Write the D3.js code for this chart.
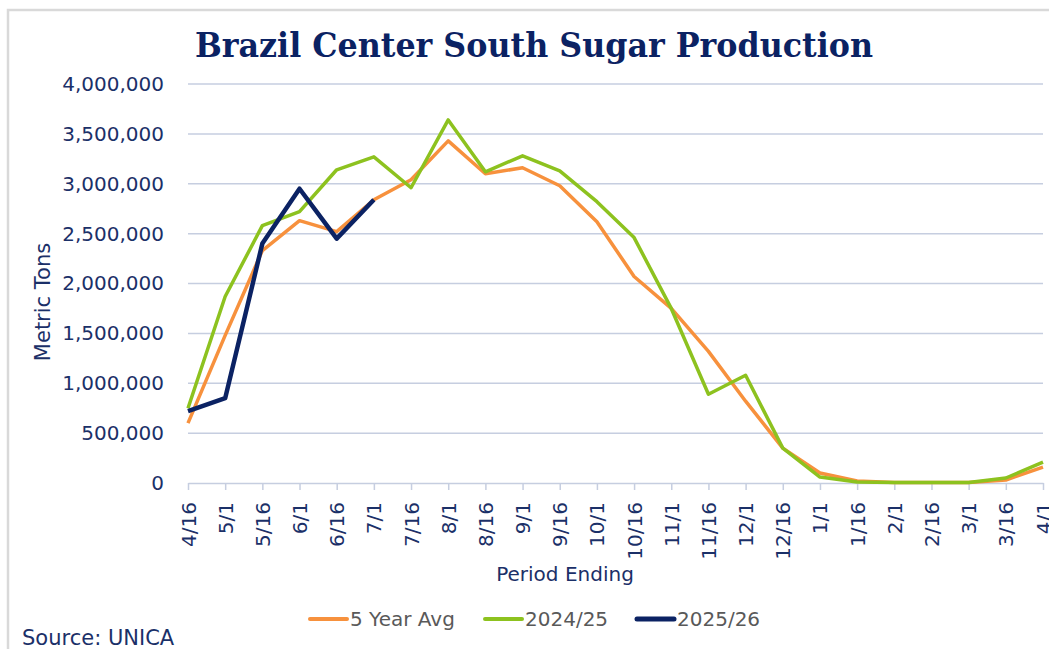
<head>
    <style> body { margin: 0; background: #fff; } </style>
    <script src="https://d3js.org/d3.v7.min.js"></script>
</head>
<body>
<div id="chart"></div>
<script>

    var periods = ["4/16","5/1","5/16","6/1","6/16","7/1","7/16","8/1","8/16","9/1","9/16","10/1",
                   "10/16","11/1","11/16","12/1","12/16","1/1","1/16","2/1","2/16","3/1","3/16","4/1"];

    var avg5 = [600000, 1480000, 2330000, 2630000, 2520000, 2840000, 3040000, 3430000, 3100000, 3160000, 2980000, 2620000,
                2070000, 1750000, 1320000, 820000, 350000, 100000, 20000, 5000, 5000, 5000, 30000, 160000];

    var y2425 = [750000, 1870000, 2580000, 2720000, 3140000, 3270000, 2960000, 3640000, 3120000, 3280000, 3130000, 2820000,
                 2460000, 1750000, 890000, 1080000, 350000, 60000, 10000, 5000, 5000, 5000, 50000, 210000];

    var y2526 = [720000, 850000, 2400000, 2950000, 2450000, 2840000];

    var yTicks = [0, 500000, 1000000, 1500000, 2000000, 2500000, 3000000, 3500000, 4000000];

    var series = [
        {name: "5 Year Avg", values: avg5, col: "#F7913D", w: 3.5},
        {name: "2024/25", values: y2425, col: "#8DC21F", w: 3.5},
        {name: "2025/26", values: y2526, col: "#0B2263", w: 4.5}
    ];

    var W = 1049, H = 649;
    var margin = {left: 188, right: 6, top: 84, bottom: 166};
    var width = W - margin.left - margin.right,
        height = H - margin.top - margin.bottom;

    var navy = "#1B3068";
    var font = "DejaVu Sans";

    var svg = d3.select("#chart").append("svg")
        .attr("width", W)
        .attr("height", H);

    // frame
    svg.append("path")
        .attr("d", "M8," + H + "V10H" + W)
        .attr("fill", "none")
        .attr("stroke", "#d9d9d9")
        .attr("stroke-width", 2.5);

    svg.append("text")
        .attr("x", 195)
        .attr("y", 57)
        .attr("font-family", "DejaVu Serif")
        .attr("font-stretch", "condensed")
        .attr("font-weight", "bold")
        .attr("font-size", 34)
        .attr("textLength", 678)
        .attr("lengthAdjust", "spacingAndGlyphs")
        .attr("fill", "#0B2263")
        .text("Brazil Center South Sugar Production");

    var focus = svg.append("g")
        .attr("transform", "translate(" + margin.left + "," + margin.top + ")");

    var x = d3.scalePoint()
        .domain(periods)
        .range([0, width]);

    var y = d3.scaleLinear()
        .domain([0, 4000000])
        .range([height, 0]);

    // grid
    focus.append("g")
        .selectAll("line")
        .data(yTicks.slice(1))
        .enter()
        .append("line")
        .attr("x1", 0)
        .attr("x2", width)
        .attr("y1", d => y(d))
        .attr("y2", d => y(d))
        .attr("stroke", "#c6cee0")
        .attr("stroke-width", 1.5);

    var yx = focus.append("g")
        .call(d3.axisLeft(y).tickValues(yTicks).tickSize(0).tickPadding(24).tickFormat(d3.format(",")));
    yx.select(".domain").remove();
    yx.selectAll("text")
        .attr("font-family", font)
        .attr("font-size", 20)
        .attr("fill", navy);

    var xx = focus.append("g")
        .attr("transform", "translate(0," + height + ")")
        .call(d3.axisBottom(x).tickSize(7).tickSizeOuter(0));
    xx.select(".domain").attr("stroke", "#c6cee0").attr("stroke-width", 1.5);
    xx.selectAll(".tick line").attr("stroke", "#c6cee0").attr("stroke-width", 1.5);
    xx.selectAll("text")
        .attr("font-family", font)
        .attr("font-size", 20)
        .attr("fill", navy)
        .attr("text-anchor", "end")
        .attr("transform", "rotate(-90)")
        .attr("x", -19)
        .attr("y", 0)
        .attr("dy", "0.35em");

    svg.append("text")
        .attr("x", 565)
        .attr("y", 581)
        .attr("text-anchor", "middle")
        .attr("font-family", font)
        .attr("font-size", 20)
        .attr("fill", navy)
        .text("Period Ending");

    svg.append("text")
        .attr("transform", "translate(50,302) rotate(-90)")
        .attr("text-anchor", "middle")
        .attr("font-family", font)
        .attr("font-size", 21)
        .attr("fill", navy)
        .text("Metric Tons");

    var line = d3.line()
        .x((d, i) => x(periods[i]))
        .y(d => y(d));

    focus.append("g")
        .selectAll("path")
        .data(series)
        .enter()
        .append("path")
        .attr("fill", "none")
        .attr("stroke", d => d.col)
        .attr("stroke-width", d => d.w)
        .attr("stroke-linejoin", "round")
        .attr("d", d => line(d.values));

    // legend
    var legX = [310, 485, 637];
    var leg = svg.append("g")
        .selectAll("g")
        .data(series)
        .enter()
        .append("g")
        .attr("transform", (d, i) => "translate(" + legX[i] + ",619)");
    leg.append("line")
        .attr("x1", 0)
        .attr("x2", 37)
        .attr("stroke", d => d.col)
        .attr("stroke-width", d => d.w + 0.5)
        .attr("stroke-linecap", "round");
    leg.append("text")
        .attr("x", 40)
        .attr("dy", "0.35em")
        .attr("font-family", font)
        .attr("font-size", 20)
        .attr("fill", "#595959")
        .text(d => d.name);

    svg.append("text")
        .attr("x", 22)
        .attr("y", 645)
        .attr("font-family", font)
        .attr("font-size", 21)
        .attr("fill", navy)
        .text("Source: UNICA");

</script>
</body>
